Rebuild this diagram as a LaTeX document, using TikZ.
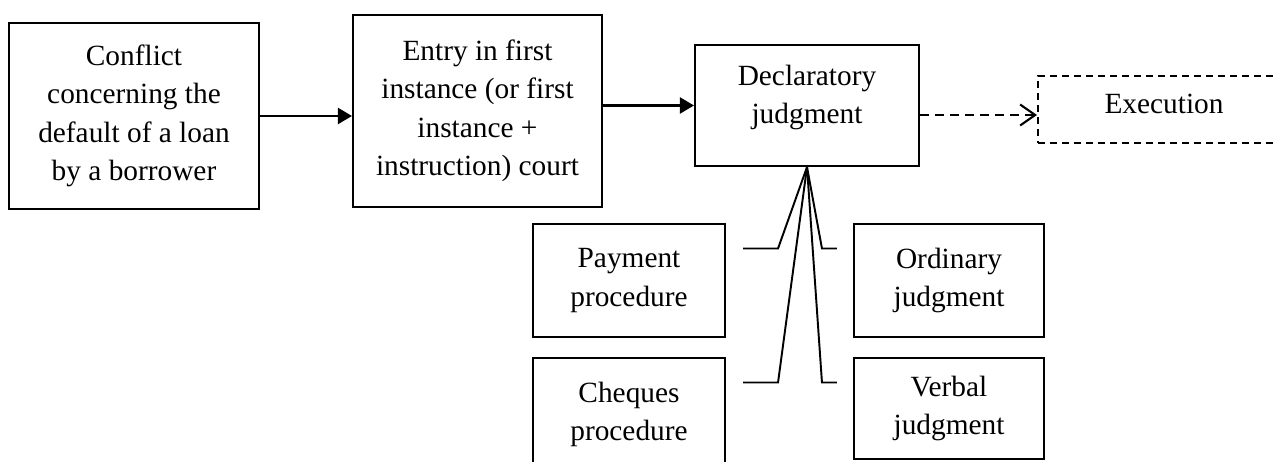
\documentclass[tikz,border=0pt]{standalone}
\usepackage{fontspec}
\setmainfont{Liberation Serif}
\usetikzlibrary{arrows.meta,calc}

\providecommand{\BoxLine}{1.2pt}
\providecommand{\BoxFont}{\fontsize{16.7}{21.9}\selectfont}

\tikzset{
    procbox/.style={draw, line width=\BoxLine, align=center, inner sep=0pt, font=\BoxFont},
    flowarrow/.style={line width=\BoxLine, -{Triangle[length=0.28cm,width=0.32cm]}},
    dasharrow/.style={line width=\BoxLine, dash pattern=on 0.18cm off 0.12cm,
        -{Straight Barb[length=0.3cm,width=0.42cm,line width=1.2pt]}},
    branch/.style={line width=1.1pt}
}

\begin{document}
\begin{tikzpicture}[x=0.02cm,y=0.02cm]

\useasboundingbox (0,0) rectangle (1278,462);

% =====================================================
% MAIN FLOW
% =====================================================
\node[procbox, minimum width=5cm, minimum height=3.72cm] (conflict) at (134,346)
    {Conflict\\concerning the\\default of a loan\\by a borrower};

\node[procbox, minimum width=4.98cm, minimum height=3.84cm] (entry) at (477.5,351)
    {Entry in first\\instance (or first\\instance +\\instruction) court};

% text sits a little above the middle of the box
\node[procbox, text depth=0.44cm, minimum width=4.48cm, minimum height=2.42cm]
    (declaratory) at (807,356.5) {Declaratory\\judgment};

% Execution box runs off the right edge of the page
\node[procbox, dash pattern=on 0.14cm off 0.1cm, text depth=0.24cm,
    minimum width=5.04cm, minimum height=1.34cm] (execution) at (1164,352.5) {Execution};

\draw[flowarrow] (conflict.east) -- (conflict.east -| entry.west);
\draw[flowarrow] (entry.east |- declaratory.west) -- (declaratory.west);

\coordinate (decout) at ($(declaratory.east)+(0,-9.5)$);
\draw[dasharrow] (decout) -- (decout -| execution.west);

% =====================================================
% KINDS OF PROCEDURE AND JUDGMENT
% =====================================================
\node[procbox, minimum width=3.84cm, minimum height=2.26cm] (payment) at (629,181.5)
    {Payment\\procedure};
\node[procbox, minimum width=3.84cm, minimum height=2.26cm] (cheques) at (629,47.5)
    {Cheques\\procedure};
\node[procbox, minimum width=3.8cm, minimum height=2.26cm] (ordinary) at (949,181.5)
    {Ordinary\\judgment};
\node[procbox, minimum width=3.8cm, minimum height=2.02cm] (verbal) at (949,53.5)
    {Verbal\\judgment};

% Branch lines fanning out below the declaratory judgment
\draw[branch] (declaratory.south) -- ($(payment.east)+(52,32)$) -- ($(payment.east)+(17,32)$);
\draw[branch] (declaratory.south) -- ($(cheques.east)+(52,32)$) -- ($(cheques.east)+(17,32)$);
\draw[branch] (declaratory.south) -- ($(ordinary.west)+(-31,32)$) -- ($(ordinary.west)+(-16,32)$);
\draw[branch] (declaratory.south) -- ($(verbal.west)+(-31,26)$) -- ($(verbal.west)+(-16,26)$);

\end{tikzpicture}
\end{document}
